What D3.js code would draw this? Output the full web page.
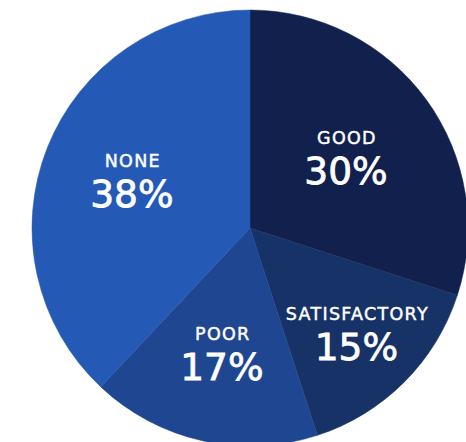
<!DOCTYPE html>
<html>
<head>
<meta charset="utf-8">
<script src="https://cdn.jsdelivr.net/npm/d3@7"></script>
<style>
  html, body { margin: 0; padding: 0; background: #ffffff; }
  svg { display: block; }
</style>
</head>
<body>
<svg id="chart" width="466" height="442"></svg>
<script>
// ---- data ----
const categories = ["GOOD", "SATISFACTORY", "POOR", "NONE"];
const percents = [30, 15, 17, 38];

// ---- style / layout ----
const colors = ["#11204d", "#163266", "#1f4690", "#2459b5"];
const labelRadiusFrac = [0.544, 0.69, 0.592, 0.583];
const cx = 250, cy = 228, R = 218;
const fontFamily = "'DejaVu Sans', 'Open Sans', sans-serif";

const svg = d3.select("#chart");
const g = svg.append("g").attr("transform", `translate(${cx},${cy})`);

const data = categories.map((c, i) => ({ name: c, value: percents[i], i }));
const pie = d3.pie().value(d => d.value).sort(null);
const arcs = pie(data);
const arc = d3.arc().innerRadius(0).outerRadius(R);
const color = d3.scaleOrdinal().domain(categories).range(colors);

g.selectAll("path.slice")
  .data(arcs)
  .join("path")
  .attr("class", "slice")
  .attr("d", arc)
  .attr("fill", d => color(d.data.name))
  .attr("stroke", d => color(d.data.name))
  .attr("stroke-width", 0.5);

const labels = g.selectAll("g.label")
  .data(arcs)
  .join("g")
  .attr("class", "label")
  .attr("transform", d => {
    const r = R * labelRadiusFrac[d.data.i];
    const c = d3.arc().innerRadius(r).outerRadius(r).centroid(d);
    return `translate(${c[0]},${c[1]})`;
  });

labels.append("text")
  .attr("text-anchor", "middle")
  .attr("x", 1)
  .attr("y", -14)
  .attr("fill", "#ffffff")
  .attr("font-family", fontFamily)
  .attr("font-weight", 400)
  .attr("font-size", 17.5)
  .attr("letter-spacing", 1.3)
  .attr("stroke", "#ffffff")
  .attr("stroke-width", 0.45)
  .text(d => d.data.name);

labels.append("text")
  .attr("text-anchor", "middle")
  .attr("y", 26)
  .attr("fill", "#ffffff")
  .attr("font-family", fontFamily)
  .attr("font-weight", 400)
  .attr("font-size", 37.5)
  .attr("stroke", "#ffffff")
  .attr("stroke-width", 0.8)
  .text(d => d.data.value + "%");
</script>
</body>
</html>
